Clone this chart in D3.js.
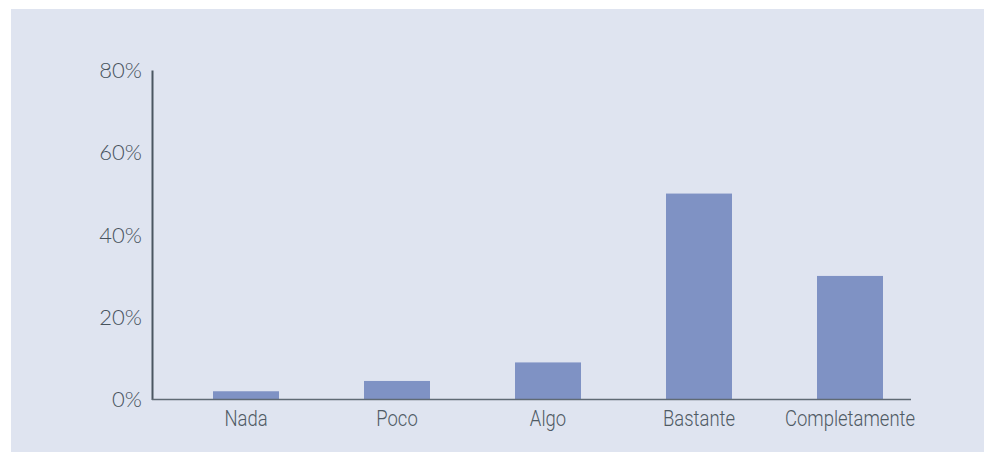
<!DOCTYPE html>
<html>
<head>
<meta charset="utf-8">
<script src="https://cdn.jsdelivr.net/npm/d3@7"></script>
<style>
  html, body { margin: 0; padding: 0; background: #ffffff; }
  svg { display: block; }
  .ytick { font-family: Lato, "Open Sans", sans-serif; font-size: 22px; font-weight: 300; fill: #48535d; }
  .xcat { font-family: Roboto, "Noto Sans", sans-serif; font-size: 22px; font-weight: 300; fill: #4f5a64; }
</style>
</head>
<body>
<svg id="chart" width="984" height="452"></svg>
<script>
// Response categories and share of answers (%)
const categories = ["Nada", "Poco", "Algo", "Bastante", "Completamente"];
const values = [2, 4.5, 9, 50, 30];
const yTicks = [0, 20, 40, 60, 80];

const svg = d3.select("#chart");

// panel background
svg.append("rect")
  .attr("x", 11).attr("y", 9)
  .attr("width", 973).attr("height", 443)
  .attr("fill", "#dfe4f0");

const x = d3.scaleBand()
  .domain(categories)
  .range([170.5, 925.5])
  .paddingInner(0.563)
  .paddingOuter(0.2815);

const y = d3.scaleLinear()
  .domain([0, 80])
  .range([399.5, 70]);

// bars
svg.append("g")
  .selectAll("rect")
  .data(values)
  .join("rect")
  .attr("x", (d, i) => x(categories[i]))
  .attr("y", d => y(d))
  .attr("width", x.bandwidth())
  .attr("height", d => y(0) - y(d))
  .attr("fill", "#7f92c4");

// y axis
const yAxis = svg.append("g")
  .attr("transform", "translate(152,0)")
  .call(d3.axisLeft(y).tickValues(yTicks).tickSize(0).tickPadding(10).tickFormat(d => d + "%"));
yAxis.select(".domain").attr("stroke", "#4b5661").attr("stroke-width", 2);
yAxis.selectAll("text").attr("class", "ytick").attr("fill", null).attr("dy", "0.34em");

// x axis with condensed category labels
const xAxis = svg.append("g")
  .attr("transform", `translate(0,${y(0)})`)
  .call(d3.axisBottom(x).tickSize(0).tickPadding(11));
xAxis.select(".domain").remove();
xAxis.append("line")
  .attr("x1", 152).attr("x2", 911)
  .attr("y1", 0).attr("y2", 0)
  .attr("stroke", "#5f6a74").attr("stroke-width", 1.5);
xAxis.selectAll("text")
  .attr("class", "xcat")
  .attr("fill", null)
  .attr("transform", "scale(0.84,1)");
</script>
</body>
</html>
